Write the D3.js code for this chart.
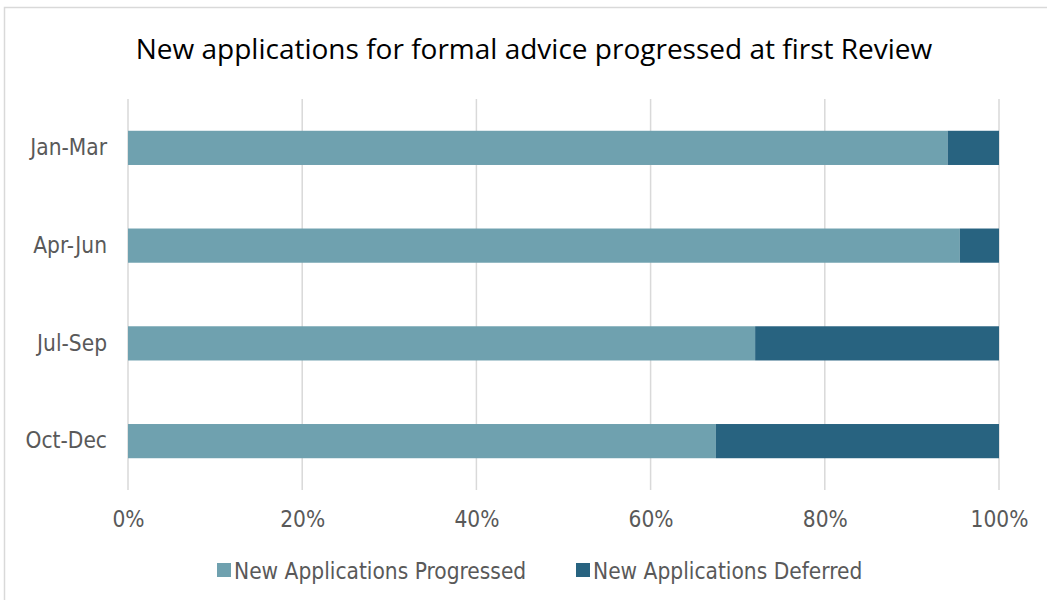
<!DOCTYPE html>
<html>
<head>
<meta charset="utf-8">
<script src="https://cdn.jsdelivr.net/npm/d3@7"></script>
<style>
  body { margin: 0; background: #fff; }
</style>
</head>
<body>
<div id="chart"></div>
<script>
// data
var quarters = ["Jan-Mar", "Apr-Jun", "Jul-Sep", "Oct-Dec"];
var progressed = [94.1, 95.5, 72.0, 67.5];
var deferred = [5.9, 4.5, 28.0, 32.5];
var tickValues = [0, 20, 40, 60, 80, 100];
var seriesNames = ["New Applications Progressed", "New Applications Deferred"];
var seriesColors = ["#6FA1AF", "#286380"];

var width = 1047, height = 600;
var margin = { top: 99, left: 128 };
var plotW = 871, plotH = 391;
var labelFont = "'DejaVu Sans Condensed', sans-serif";

var svg = d3.select("#chart")
    .append("svg")
    .attr("width", width)
    .attr("height", height);

// chart border
svg.append("rect")
    .attr("x", 4.5)
    .attr("y", 7.5)
    .attr("width", width + 10)
    .attr("height", height + 10)
    .style("fill", "none")
    .style("stroke", "#d9d9d9")
    .style("stroke-width", "1.5px");

// title
svg.append("text")
    .attr("x", 534)
    .attr("y", 59)
    .style("text-anchor", "middle")
    .style("font-family", "'Open Sans', sans-serif")
    .style("font-size", "28px")
    .style("fill", "#000")
    .text("New applications for formal advice progressed at first Review");

var g = svg.append("g")
    .attr("transform", "translate(" + margin.left + "," + margin.top + ")");

var x = d3.scaleLinear().domain([0, 100]).range([0, plotW]);
var y = d3.scaleBand().domain(quarters).range([0, plotH]).paddingInner(0.65).paddingOuter(0.325);

// gridlines
g.append("g")
    .selectAll("line")
    .data(tickValues)
    .enter().append("line")
    .attr("x1", function (d) { return x(d); })
    .attr("x2", function (d) { return x(d); })
    .attr("y1", 0)
    .attr("y2", plotH)
    .style("stroke", "#d9d9d9")
    .style("stroke-width", "1.5px");

// stacked bars
var rows = quarters.map(function (q, i) {
    return { q: q, progressed: progressed[i], deferred: deferred[i] };
});
var layers = d3.stack().keys(["progressed", "deferred"])(rows);

g.selectAll(".layer")
    .data(layers)
    .enter().append("g")
    .attr("class", "layer")
    .style("fill", function (d, i) { return seriesColors[i]; })
    .selectAll("rect")
    .data(function (d) { return d; })
    .enter().append("rect")
    .attr("x", function (d) { return x(d[0]); })
    .attr("width", function (d) { return x(d[1]) - x(d[0]); })
    .attr("y", function (d) { return y(d.data.q); })
    .attr("height", y.bandwidth());

// x axis
g.append("g")
    .attr("transform", "translate(0," + plotH + ")")
    .style("font-family", labelFont)
    .style("font-size", "22.5px")
    .call(d3.axisBottom(x)
        .tickValues(tickValues)
        .tickFormat(function (d) { return d + "%"; })
        .tickSize(0)
        .tickPadding(21))
    .call(function (a) { a.select(".domain").remove(); })
    .call(function (a) { a.selectAll("text").style("fill", "#595959"); });

// y axis
g.append("g")
    .style("font-family", labelFont)
    .style("font-size", "22.5px")
    .call(d3.axisLeft(y)
        .tickSize(0)
        .tickPadding(21))
    .call(function (a) { a.select(".domain").remove(); })
    .call(function (a) { a.selectAll("text").style("fill", "#595959"); });

// legend
var legend = svg.append("g").attr("transform", "translate(217,570)");
var legendX = [0, 359];
seriesNames.forEach(function (name, i) {
    var item = legend.append("g").attr("transform", "translate(" + legendX[i] + ",0)");
    item.append("rect")
        .attr("x", 0)
        .attr("y", -7)
        .attr("width", 14)
        .attr("height", 14)
        .style("fill", seriesColors[i]);
    item.append("text")
        .attr("x", 17)
        .attr("y", 1)
        .attr("dy", "0.35em")
        .style("font-family", labelFont)
        .style("font-size", "22.5px")
        .style("fill", "#595959")
        .text(name);
});
</script>
</body>
</html>
